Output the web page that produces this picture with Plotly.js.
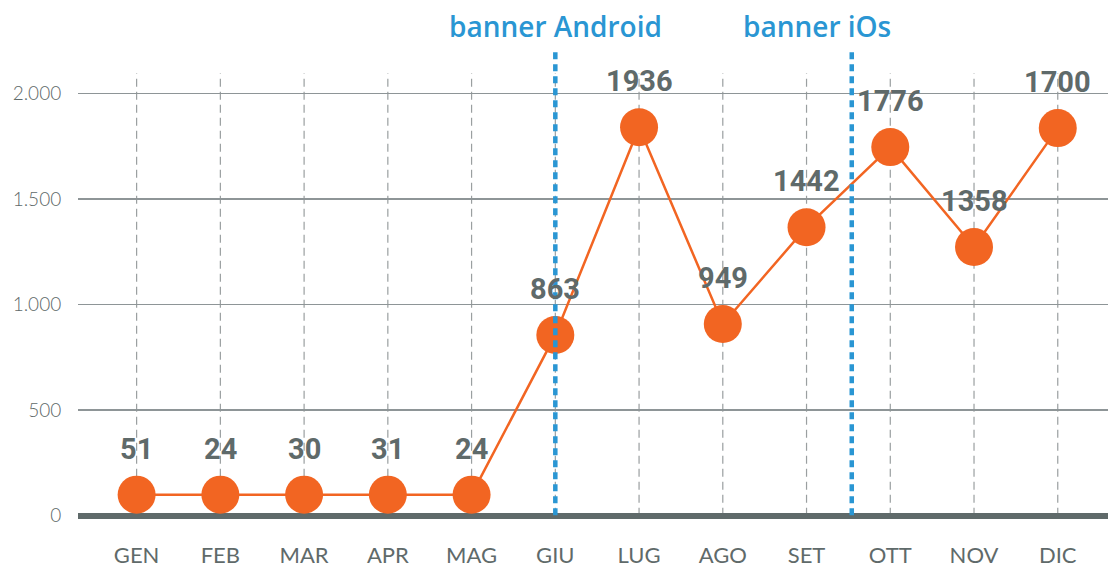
<!DOCTYPE html>
<html>
<head>
<meta charset="utf-8">
<script src="https://cdn.plot.ly/plotly-3.0.1.min.js"></script>
<style>html,body{margin:0;padding:0;background:#fff;}#chart{width:1109px;height:567px;}</style>
</head>
<body>
<div id="chart"></div>
<script>
const months = ['GEN','FEB','MAR','APR','MAG','GIU','LUG','AGO','SET','OTT','NOV','DIC'];
const plotted = [100, 100, 100, 100, 100, 856, 1839, 908, 1366, 1745, 1272, 1835];
const labels = ['51','24','30','31','24','863','1936','949','1442','1776','1358','1700'];
const yTickVals = [0, 500, 1000, 1500, 2000];
const yTickText = ['0','500','1.000','1.500','2.000'];
const bannerNames = ['banner Android','banner iOs'];
const bannerLinePos = [5, 8.54];
const bannerTextPos = [5, 8.12];

const gray = '#5f6a6a';
const orange = '#f26522';
const blue = '#2a96d3';

const xIdx = months.map((m,i)=>i);

const shapes = [];
xIdx.forEach(i=>{
  shapes.push({type:'line', xref:'x', yref:'y', x0:i, x1:i, y0:0, y1:2095,
    line:{color:'#9a9fa0', width:1.2, dash:'8px,5px'}, layer:'below'});
});
bannerLinePos.forEach(p=>{
  shapes.push({type:'line', xref:'x', yref:'paper', x0:p, x1:p, y0:0.01, y1:1,
    line:{color:blue, width:4.5, dash:'7px,5px'}, layer:'above'});
});

const annotations = [];
xIdx.forEach(i=>{
  annotations.push({x:i, y:plotted[i], xref:'x', yref:'y', text:labels[i], showarrow:false,
    yshift:46, font:{family:'Roboto, sans-serif', size:29, color:gray, weight:'bold'}});
});
bannerNames.forEach((t,k)=>{
  annotations.push({x:bannerTextPos[k], y:1, xref:'x', yref:'paper', yanchor:'bottom', yshift:4,
    text:t, showarrow:false, font:{family:'Open Sans, sans-serif', size:28, color:blue, weight:600}});
});

const trace = {
  x: xIdx, y: plotted, type:'scatter', mode:'lines+markers',
  line:{color:orange, width:2.5},
  marker:{color:orange, size:38},
  hoverinfo:'skip'
};

const layout = {
  width:1109, height:567,
  margin:{l:78, r:1, t:51, b:47},
  paper_bgcolor:'#fff', plot_bgcolor:'#fff',
  showlegend:false,
  xaxis:{range:[-0.7, 11.6], tickvals:xIdx, ticktext:months, showgrid:false, zeroline:false,
    ticks:'outside', ticklen:16, tickcolor:'rgba(0,0,0,0)', showline:false,
    tickfont:{family:'Lato, sans-serif', size:22, color:gray}},
  yaxis:{range:[-20, 2200], tickvals:yTickVals, ticktext:yTickText, showgrid:true,
    gridcolor:'#8e9597', gridwidth:1.5, zeroline:true, zerolinecolor:gray, zerolinewidth:6,
    ticks:'outside', ticklen:12, tickcolor:'rgba(0,0,0,0)', showline:false,
    tickfont:{family:'Lato, sans-serif', size:19, color:gray, weight:300}},
  shapes: shapes,
  annotations: annotations
};

Plotly.newPlot('chart', [trace], layout, {displayModeBar:false, staticPlot:true});
</script>
</body>
</html>
